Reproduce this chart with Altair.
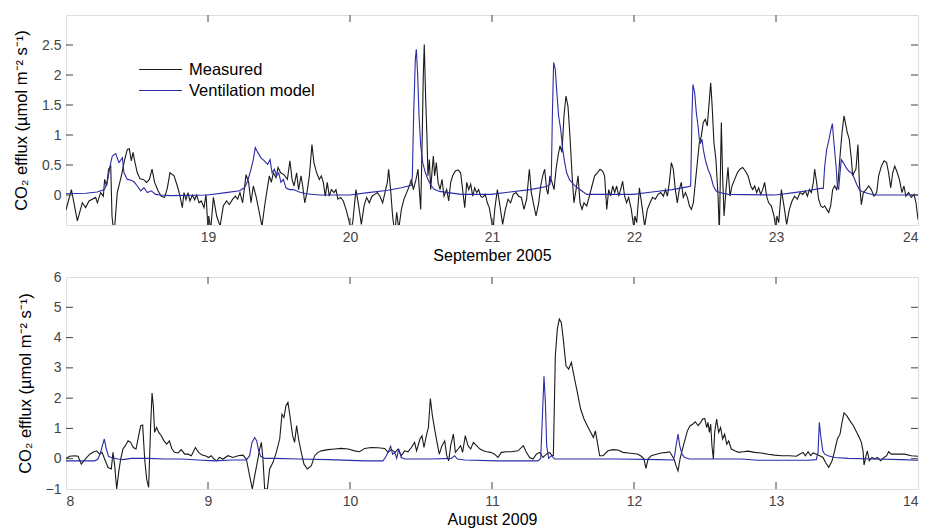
import altair as alt
import pandas as pd

FONT = "Liberation Sans"
BLACK = "#1a1a1a"
BLUE = "#2b2ba8"
SERIES = ["Measured", "Ventilation model"]
Y_TITLE = "CO₂ efflux (µmol m⁻² s⁻¹)"

# ---------------- September 2005 (top panel) ----------------
sep_meas_day = [
    18.000, 18.038, 18.080, 18.115, 18.138, 18.162, 18.185, 18.209, 18.221, 18.244, 18.263, 18.272,
    18.286, 18.300, 18.315, 18.324, 18.338, 18.361, 18.390, 18.413, 18.432, 18.446, 18.460, 18.472,
    18.486, 18.502, 18.521, 18.545, 18.568, 18.587, 18.606, 18.624, 18.648, 18.671, 18.695, 18.714,
    18.732, 18.761, 18.784, 18.803, 18.819, 18.831, 18.845, 18.859, 18.873, 18.890, 18.906, 18.920,
    18.937, 18.953, 18.972, 18.986,
    19.000, 19.005, 19.019, 19.038, 19.061, 19.085, 19.108, 19.131, 19.150, 19.174, 19.192, 19.209,
    19.225, 19.244, 19.268, 19.286, 19.303, 19.319, 19.338, 19.357, 19.380, 19.399, 19.413, 19.432,
    19.446, 19.460, 19.479, 19.493, 19.512, 19.535, 19.559, 19.577, 19.592, 19.606, 19.624, 19.638,
    19.655, 19.667, 19.681, 19.697, 19.714, 19.732, 19.746, 19.765, 19.784, 19.798, 19.812, 19.826,
    19.840, 19.854, 19.869, 19.887, 19.901, 19.915, 19.934, 19.953, 19.972, 19.991,
    20.005, 20.019, 20.042, 20.061, 20.080, 20.099, 20.117, 20.136, 20.155, 20.174, 20.192, 20.211,
    20.230, 20.249, 20.263, 20.272, 20.286, 20.300, 20.315, 20.329, 20.343, 20.362, 20.380, 20.399,
    20.418, 20.432, 20.446, 20.465, 20.479, 20.488, 20.498, 20.507, 20.516, 20.523, 20.533, 20.542,
    20.549, 20.559, 20.568, 20.577, 20.587, 20.596, 20.608, 20.620, 20.634, 20.648, 20.662, 20.681,
    20.695, 20.709, 20.723, 20.742, 20.761, 20.779, 20.793, 20.808, 20.822, 20.836, 20.850, 20.864,
    20.878, 20.892, 20.906, 20.920, 20.934, 20.953, 20.967, 20.981, 20.995,
    21.008, 21.019, 21.038, 21.056, 21.075, 21.094, 21.113, 21.131, 21.150, 21.169, 21.188, 21.207,
    21.225, 21.244, 21.263, 21.277, 21.291, 21.310, 21.329, 21.343, 21.357, 21.371, 21.385, 21.394,
    21.408, 21.423, 21.437, 21.451, 21.465, 21.479, 21.493, 21.507, 21.521, 21.535, 21.549, 21.563,
    21.577, 21.592, 21.606, 21.620, 21.634, 21.648, 21.667, 21.686, 21.704, 21.723, 21.742, 21.761,
    21.779, 21.793, 21.808, 21.822, 21.836, 21.850, 21.864, 21.878, 21.892, 21.906, 21.920, 21.934,
    21.948, 21.962, 21.981, 22.000,
    22.006, 22.019, 22.038, 22.056, 22.075, 22.094, 22.113, 22.131, 22.150, 22.169, 22.188, 22.207,
    22.221, 22.235, 22.249, 22.263, 22.277, 22.291, 22.305, 22.319, 22.333, 22.347, 22.362, 22.376,
    22.390, 22.404, 22.418, 22.432, 22.446, 22.460, 22.474, 22.488, 22.502, 22.516, 22.531, 22.540,
    22.549, 22.563, 22.577, 22.592, 22.601, 22.615, 22.624, 22.634, 22.648, 22.662, 22.676, 22.690,
    22.709, 22.728, 22.746, 22.765, 22.784, 22.803, 22.822, 22.836, 22.850, 22.864, 22.878, 22.892,
    22.906, 22.920, 22.934, 22.948, 22.967, 22.986, 23.000,
    23.006, 23.019, 23.038, 23.056, 23.075, 23.094, 23.113, 23.131, 23.150, 23.169, 23.188, 23.207,
    23.221, 23.235, 23.249, 23.263, 23.272, 23.286, 23.300, 23.315, 23.329, 23.343, 23.357, 23.371,
    23.385, 23.399, 23.413, 23.427, 23.437, 23.451, 23.465, 23.479, 23.488, 23.502, 23.516, 23.531,
    23.540, 23.549, 23.563, 23.577, 23.587, 23.601, 23.615, 23.634, 23.653, 23.671, 23.690, 23.709,
    23.723, 23.742, 23.761, 23.779, 23.793, 23.808, 23.822, 23.836, 23.850, 23.869, 23.887, 23.901,
    23.915, 23.934, 23.953, 23.972, 23.986, 24.000,
]
sep_meas_val = [
    -0.25, 0.09, -0.43, -0.13, -0.21, -0.10, -0.07, -0.04, -0.13, 0.04, -0.02, 0.26,
    0.15, 0.43, 0.48, -0.35, -0.68, 0.04, 0.32, 0.59, 0.76, 0.77, 0.57, 0.71,
    0.54, 0.37, 0.27, 0.26, 0.21, 0.26, 0.43, 0.21, 0.07, -0.02, -0.04, 0.12,
    0.37, 0.32, 0.15, -0.02, -0.21, 0.04, -0.08, 0.04, -0.10, 0.00, -0.08, 0.00,
    -0.13, -0.10, -0.21, 0.01,
    -0.57, -0.35, -0.57, -0.04, -0.35, -0.52, -0.18, -0.10, -0.16, -0.07, -0.02, -0.07,
    0.04, -0.13, 0.34, 0.21, -0.13, 0.15, -0.02, -0.24, -0.52, -0.18, 0.04, 0.32,
    0.21, 0.37, 0.29, 0.46, 0.37, 0.34, 0.26, 0.57, 0.26, 0.15, 0.37, 0.09,
    0.32, 0.15, -0.13, 0.04, 0.32, 0.84, 0.54, 0.37, 0.26, 0.32, 0.21, -0.02,
    0.21, -0.02, 0.09, 0.04, 0.09, -0.07, -0.04, -0.10, -0.24, -0.41,
    -0.57, -0.46, 0.09, -0.18, -0.49, -0.18, -0.04, -0.13, -0.02, 0.01, 0.04, -0.02,
    -0.13, 0.07, 0.21, 0.43, 0.09, -0.35, -0.63, -0.29, -0.57, -0.24, -0.07, 0.04,
    0.15, 0.26, 0.09, 0.26, 0.43, 0.09, -0.24, 0.76, 1.98, 2.51, 1.59, 0.98,
    0.32, 0.59, 0.09, 0.37, 0.65, 0.32, 0.54, 0.21, 0.09, 0.26, -0.02, 0.09,
    -0.10, 0.21, 0.32, 0.40, 0.42, 0.37, 0.09, -0.21, 0.21, 0.09, 0.18, -0.02,
    0.12, 0.04, 0.09, -0.02, -0.04, 0.01, -0.13, -0.21, -0.41,
    -0.57, -0.24, 0.09, -0.18, -0.49, -0.24, -0.07, -0.13, 0.01, 0.04, -0.02, -0.04,
    -0.24, -0.07, 0.43, 0.04, -0.13, -0.35, -0.13, 0.15, 0.32, 0.43, 0.09, 0.01,
    0.32, 0.21, 0.09, 0.43, 0.65, 0.82, 0.71, 1.32, 1.65, 1.48, 0.98, 0.37,
    -0.13, 0.09, 0.32, -0.13, -0.24, -0.13, -0.18, -0.02, 0.15, 0.32, 0.37, 0.43,
    0.40, 0.32, -0.24, 0.09, -0.02, 0.15, 0.04, 0.15, -0.02, 0.09, 0.23, -0.02,
    -0.13, -0.04, -0.24, -0.57,
    -0.35, -0.46, 0.12, -0.18, -0.52, -0.24, -0.13, -0.04, -0.07, 0.01, 0.04, -0.02,
    0.09, -0.02, 0.21, 0.54, 0.43, 0.09, -0.13, 0.09, 0.21, -0.04, 0.04, -0.04,
    -0.18, -0.24, -0.13, 0.21, 0.54, 0.87, 0.98, 1.21, 1.26, 1.15, 1.59, 1.87,
    1.54, 0.87, 0.59, -0.02, -0.63, 1.21, 0.32, -0.35, 0.09, 0.46, -0.02, 0.15,
    0.26, 0.37, 0.43, 0.46, 0.40, 0.32, 0.15, 0.09, 0.15, 0.04, 0.12, 0.01,
    0.09, 0.21, -0.02, -0.13, -0.18, -0.35, -0.57,
    -0.35, -0.46, 0.09, -0.18, -0.49, -0.24, -0.10, -0.02, -0.07, 0.04, 0.01, 0.07,
    -0.02, 0.09, 0.04, 0.21, 0.43, 0.21, -0.07, -0.18, -0.21, -0.18, -0.24, -0.29,
    -0.18, 0.09, 0.15, 0.09, 0.21, 0.65, 1.04, 1.32, 1.21, 1.04, 0.93, 0.59,
    0.32, 0.37, 0.43, 0.84, 0.21, -0.16, 0.04, 0.09, 0.15, 0.09, -0.02, 0.04,
    0.32, 0.48, 0.57, 0.54, 0.37, 0.12, 0.37, 0.48, 0.40, 0.26, 0.04, 0.15,
    -0.02, 0.04, -0.04, 0.01, -0.13, -0.41,
]
sep_model_day = [
    18.000, 18.140, 18.220, 18.270, 18.290, 18.310, 18.326, 18.350, 18.373, 18.397, 18.408, 18.432,
    18.455, 18.479, 18.502, 18.526, 18.549, 18.573, 18.601, 18.631, 18.667, 18.737, 18.995,
    19.127, 19.221, 19.256, 19.279, 19.303, 19.319, 19.333, 19.350, 19.373, 19.397, 19.420, 19.437,
    19.451, 19.467, 19.484, 19.498, 19.514, 19.531, 19.549, 19.573, 19.601, 19.643, 19.690, 19.784,
    19.995,
    20.127, 20.268, 20.362, 20.432, 20.439, 20.448, 20.460, 20.467, 20.477, 20.486, 20.498, 20.512,
    20.531, 20.549, 20.573, 20.596, 20.631, 20.690, 20.784, 20.995,
    21.127, 21.268, 21.385, 21.408, 21.418, 21.425, 21.434, 21.446, 21.455, 21.469, 21.484, 21.498,
    21.512, 21.526, 21.545, 21.573, 21.601, 21.631, 21.667, 21.995,
    22.127, 22.268, 22.385, 22.399, 22.404, 22.408, 22.415, 22.427, 22.439, 22.451, 22.460, 22.469,
    22.479, 22.488, 22.502, 22.521, 22.540, 22.559, 22.577, 22.601, 22.667, 22.995,
    23.127, 23.221, 23.315, 23.333, 23.343, 23.357, 23.371, 23.385, 23.397, 23.408, 23.423, 23.432,
    23.441, 23.451, 23.460, 23.474, 23.493, 23.512, 23.531, 23.549, 23.568, 23.587, 23.606, 23.643,
    23.690, 24.000,
]
sep_model_val = [
    0.02, 0.03, 0.05, 0.09, 0.20, 0.48, 0.65, 0.69, 0.54, 0.62, 0.37, 0.26,
    0.25, 0.22, 0.15, 0.07, 0.12, 0.04, 0.07, 0.01, 0.00, -0.01, 0.00,
    0.04, 0.07, 0.12, 0.23, 0.43, 0.59, 0.79, 0.71, 0.62, 0.57, 0.51, 0.59,
    0.37, 0.43, 0.32, 0.37, 0.21, 0.26, 0.12, 0.09, 0.09, 0.05, 0.02, 0.00,
    0.00,
    0.04, 0.08, 0.12, 0.16, 0.32, 1.32, 2.26, 2.43, 1.98, 1.32, 0.82, 0.54,
    0.37, 0.26, 0.15, 0.09, 0.06, 0.04, 0.01, 0.01,
    0.05, 0.09, 0.14, 0.18, 0.32, 1.32, 2.21, 2.09, 1.76, 1.32, 1.09, 0.76,
    0.54, 0.37, 0.26, 0.18, 0.12, 0.07, 0.01, 0.01,
    0.05, 0.09, 0.14, 0.15, 0.76, 1.32, 1.84, 1.71, 1.37, 1.15, 0.93, 0.87,
    0.93, 0.76, 0.59, 0.43, 0.32, 0.15, 0.07, 0.04, 0.01, 0.00,
    0.04, 0.07, 0.11, 0.11, 0.48, 0.76, 0.90, 1.07, 1.19, 0.87, 0.48, 0.15,
    0.09, 0.37, 0.59, 0.54, 0.46, 0.40, 0.37, 0.29, 0.18, 0.09, 0.06, 0.03,
    0.00, 0.00,
]

# ---------------- August 2009 (bottom panel) ----------------
aug_meas_day = [
    8.000, 8.026, 8.061, 8.085, 8.108, 8.136, 8.167, 8.190, 8.214, 8.237, 8.254, 8.272,
    8.296, 8.319, 8.331, 8.343, 8.357, 8.371, 8.385, 8.401, 8.418, 8.437, 8.455, 8.474,
    8.493, 8.507, 8.526, 8.540, 8.554, 8.568, 8.582, 8.596, 8.606, 8.615, 8.624, 8.638,
    8.653, 8.671, 8.690, 8.709, 8.728, 8.746, 8.765, 8.789, 8.812, 8.836, 8.859, 8.883,
    8.911, 8.934, 8.958, 8.981, 9.005, 9.023, 9.042, 9.061, 9.080, 9.106, 9.141, 9.176,
    9.211, 9.246, 9.270, 9.293, 9.312, 9.329, 9.347, 9.364, 9.376, 9.387, 9.399, 9.418,
    9.434, 9.458, 9.481, 9.505, 9.521, 9.535, 9.549, 9.563, 9.577, 9.596, 9.610, 9.624,
    9.638, 9.657, 9.676, 9.700, 9.728, 9.751, 9.775, 9.798,
    9.845, 9.892, 9.939, 9.986, 10.033, 10.068, 10.103, 10.150, 10.197, 10.244, 10.268, 10.291,
    10.319, 10.338, 10.361, 10.385, 10.408, 10.432, 10.455, 10.469, 10.493, 10.507, 10.521, 10.540,
    10.552, 10.566, 10.580, 10.596, 10.615, 10.629, 10.648, 10.667, 10.681, 10.695, 10.709, 10.728,
    10.742, 10.761, 10.779, 10.793, 10.812, 10.831, 10.850, 10.869, 10.892, 10.915, 10.939, 10.962,
    10.991, 11.019, 11.042, 11.066, 11.101, 11.136, 11.183, 11.221, 11.242, 11.265, 11.289, 11.312,
    11.336, 11.359, 11.383, 11.406, 11.423, 11.432, 11.446, 11.460, 11.474, 11.488, 11.502, 11.521,
    11.540, 11.559, 11.577, 11.601, 11.624, 11.648, 11.671, 11.695, 11.714, 11.728, 11.742, 11.758,
    11.782, 11.817, 11.852, 11.887,
    11.923, 11.958, 11.993, 12.028, 12.052, 12.070, 12.084, 12.099, 12.122, 12.157, 12.192, 12.228,
    12.251, 12.268, 12.282, 12.296, 12.310, 12.324, 12.338, 12.357, 12.376, 12.395, 12.413, 12.432,
    12.451, 12.470, 12.484, 12.498, 12.512, 12.521, 12.531, 12.540, 12.549, 12.559, 12.568, 12.582,
    12.596, 12.610, 12.624, 12.638, 12.653, 12.667, 12.685, 12.709, 12.737, 12.767, 12.803, 12.850,
    12.897, 12.944, 12.991, 13.038, 13.096, 13.143, 13.167, 13.190, 13.207, 13.226, 13.244, 13.261,
    13.284, 13.308, 13.331, 13.348, 13.371, 13.395, 13.413, 13.432, 13.451, 13.465, 13.479, 13.498,
    13.521, 13.545, 13.568, 13.587, 13.601, 13.613, 13.620, 13.634, 13.643, 13.657, 13.676, 13.695,
    13.714, 13.737, 13.761, 13.779, 13.793, 13.812, 13.859, 13.906, 13.953, 14.000,
]
aug_meas_val = [
    0.01, 0.08, 0.10, 0.08, -0.18, -0.01, 0.15, 0.21, 0.26, 0.15, 0.21, -0.01,
    -0.29, -0.34, 0.21, -0.23, -1.00, -0.45, -0.01, 0.32, 0.43, 0.59, 0.54, 0.37,
    0.32, 0.65, 1.09, 1.11, -0.01, -0.67, -0.95, 1.09, 2.17, 1.75, 0.87, 1.03,
    0.87, 0.76, 0.59, 0.48, 0.59, 0.32, 0.21, 0.19, 0.30, 0.15, 0.15, 0.10,
    0.37, 0.21, 0.12, 0.10, 0.04, 0.10, -0.01, -0.07, 0.04, -0.01, 0.10, 0.04,
    0.10, 0.12, -0.01, -0.56, -1.00, -0.56, -0.12, 0.32, 0.54, -0.01, -1.00, -1.00,
    -0.34, -0.12, 0.21, 0.65, 1.47, 1.36, 1.75, 1.86, 1.42, 0.76, 0.54, 1.09,
    0.65, 0.21, -0.18, -0.34, -0.23, 0.10, 0.21, 0.26,
    0.30, 0.32, 0.34, 0.32, 0.26, 0.23, 0.34, 0.37, 0.36, 0.34, 0.21, 0.30,
    0.21, 0.32, 0.10, 0.26, 0.23, 0.37, 0.54, 0.26, 0.65, 0.76, 0.37, 0.81,
    1.03, 1.99, 1.42, 0.98, 0.48, 0.15, 0.43, 0.59, 0.10, -0.07, 0.43, 0.81,
    0.21, 0.32, 0.43, 0.21, 0.76, 0.43, 0.32, 0.54, 0.43, 0.32, 0.26, 0.23,
    0.21, 0.15, 0.04, 0.21, 0.23, 0.23, 0.26, 0.43, 0.21, 0.04, -0.01, 0.15,
    0.21, 0.04, 0.15, 0.21, 0.10, 0.10, 3.40, 4.28, 4.61, 4.50, 3.95, 3.07,
    2.96, 3.18, 2.74, 2.19, 1.64, 1.31, 1.09, 0.87, 0.70, 0.92, 0.54, 0.10,
    0.10, 0.26, 0.30, 0.29,
    0.21, 0.19, 0.17, 0.15, 0.08, -0.01, -0.32, -0.01, 0.10, 0.15, 0.19, 0.21,
    0.23, 0.10, -0.01, -0.23, -0.40, -0.01, 0.26, 0.59, 0.92, 1.09, 1.14, 1.22,
    1.09, 1.20, 1.31, 1.33, 1.03, 1.20, 0.87, 1.14, 0.43, -0.01, 0.87, 1.31,
    0.87, 1.03, 0.65, 0.81, 0.48, 0.59, 0.32, 0.26, 0.21, 0.23, 0.25, 0.21,
    0.19, 0.15, 0.12, 0.10, 0.10, 0.08, 0.15, 0.21, 0.10, 0.23, 0.10, 0.19,
    0.15, 0.10, 0.04, -0.12, -0.29, -0.07, 0.26, 0.65, 0.81, 1.20, 1.51, 1.42,
    1.25, 1.09, 0.87, 0.70, 0.54, 0.26, -0.21, 0.10, 0.26, -0.07, 0.04, -0.01,
    0.04, -0.07, 0.04, 0.10, 0.23, 0.15, 0.15, 0.15, 0.10, 0.08,
]
aug_model_day = [
    8.000, 8.202, 8.225, 8.244, 8.256, 8.270, 8.284, 8.300, 8.319, 8.366, 8.401, 8.460,
    8.577, 8.695, 8.812, 8.930, 9.047, 9.164, 9.270, 9.293, 9.310, 9.329, 9.343, 9.357,
    9.371, 9.399, 9.469, 9.634, 9.850, 10.103, 10.232, 10.249, 10.268, 10.286, 10.300, 10.315,
    10.329, 10.343, 10.361, 10.385, 10.573, 10.714, 10.737, 10.756, 10.808, 11.042, 11.324, 11.343,
    11.357, 11.366, 11.376, 11.385, 11.399, 11.418, 11.441, 11.512, 11.887, 12.169, 12.275, 12.286,
    12.298, 12.310, 12.322, 12.338, 12.357, 12.392, 12.756, 12.873, 13.226, 13.284, 13.296, 13.305,
    13.315, 13.329, 13.343, 13.366, 13.413, 13.507, 13.695, 13.883, 14.000,
]
aug_model_val = [
    -0.07, -0.07, -0.01, 0.21, 0.43, 0.65, 0.32, 0.07, 0.04, -0.01, -0.03, 0.01,
    0.01, -0.01, -0.01, -0.04, -0.07, -0.04, -0.04, 0.10, 0.54, 0.70, 0.59, 0.26,
    0.08, 0.01, 0.01, -0.01, -0.03, -0.07, -0.07, 0.04, 0.21, 0.41, 0.15, 0.21,
    0.01, 0.32, 0.04, -0.01, -0.01, 0.01, 0.10, -0.01, -0.04, -0.07, -0.07, 0.01,
    1.64, 2.72, 1.86, 0.43, 0.01, 0.10, -0.01, -0.01, -0.01, -0.03, -0.04, 0.10,
    0.48, 0.81, 0.43, 0.15, 0.04, -0.01, -0.01, -0.05, -0.05, -0.03, 0.21, 1.20,
    0.76, 0.26, 0.15, 0.10, 0.04, 0.01, -0.01, -0.03, -0.05,
]

sep_xticks = [19, 20, 21, 22, 23, 24]
sep_xtick_marks = [19, 20, 21, 22, 23]
sep_yticks = [0, 0.5, 1, 1.5, 2, 2.5]
aug_xticks = [8, 9, 10, 11, 12, 13, 14]
aug_xtick_marks = [9, 10, 11, 12, 13]
aug_yticks = [-1, 0, 1, 2, 3, 4, 5, 6]
aug_ytick_marks = [0, 1, 2, 3, 4, 5]

W = 852
TICK = 7


def long_df(md, mv, sd, sv):
    a = pd.DataFrame({"day": md, "value": mv, "series": SERIES[0]})
    b = pd.DataFrame({"day": sd, "value": sv, "series": SERIES[1]})
    return pd.concat([a, b], ignore_index=True)


def panel(df, xdom, ydom, xticks, xmarks, yticks, ymarks, xtitle, H, show_legend):
    xs = alt.Scale(domain=xdom, nice=False, zero=False)
    ys = alt.Scale(domain=ydom, nice=False, zero=False)
    xaxis = alt.Axis(values=xticks, format="d", ticks=False, domain=False, grid=False,
                     labelOverlap=False, labelPadding=5, titlePadding=3, labelFont=FONT,
                     labelFontSize=14, labelColor="#444444", titleFont=FONT, titleFontSize=16,
                     titleFontWeight="normal", titleColor="#000000")
    yaxis = alt.Axis(values=yticks, format="~g", ticks=False, domain=False, grid=False,
                     labelOverlap=False, labelPadding=5, titlePadding=12,
                     labelFont=FONT, labelFontSize=14, labelColor="#444444",
                     titleFont=FONT, titleFontSize=16.5, titleFontWeight="normal",
                     titleColor="#000000")
    if show_legend:
        leg = alt.Legend(
            title=None, orient="none", legendX=72, legendY=44, symbolType="stroke",
            symbolSize=1849, symbolStrokeWidth=1.2, labelFont=FONT, labelFontSize=16.5,
            labelColor="#000000", labelOffset=6, clipHeight=21, rowPadding=0, padding=0,
        )
    else:
        leg = None
    lines = alt.Chart(df).mark_line(clip=True, strokeWidth=1.1).encode(
        x=alt.X("day:Q", scale=xs, title=xtitle, axis=xaxis),
        y=alt.Y("value:Q", scale=ys, title=Y_TITLE, axis=yaxis),
        color=alt.Color("series:N", scale=alt.Scale(domain=SERIES, range=[BLACK, BLUE]), legend=leg),
        order=alt.Order("series:N"),
        detail="series:N",
    )
    xt = pd.DataFrame({"day": xmarks})
    yt = pd.DataFrame({"value": ymarks})
    tick_style = dict(color="#444444", strokeWidth=1)
    xenc = alt.X("day:Q", scale=xs, title=xtitle, axis=xaxis)
    yenc = alt.Y("value:Q", scale=ys, title=Y_TITLE, axis=yaxis)
    top_t = alt.Chart(xt).mark_rule(**tick_style).encode(
        x=xenc, y=alt.value(0), y2=alt.value(TICK))
    bot_t = alt.Chart(xt).mark_rule(**tick_style).encode(
        x=xenc, y=alt.value(H), y2=alt.value(H - TICK))
    left_t = alt.Chart(yt).mark_rule(**tick_style).encode(
        y=yenc, x=alt.value(0), x2=alt.value(TICK))
    right_t = alt.Chart(yt).mark_rule(**tick_style).encode(
        y=yenc, x=alt.value(W), x2=alt.value(W - TICK))
    return alt.layer(lines, top_t, bot_t, left_t, right_t).properties(width=W, height=H)


top = panel(long_df(sep_meas_day, sep_meas_val, sep_model_day, sep_model_val),
            [18, 24], [-0.5, 3.0], sep_xticks, sep_xtick_marks, sep_yticks, sep_yticks,
            "September 2005", 210, True)
bottom = panel(long_df(aug_meas_day, aug_meas_val, aug_model_day, aug_model_val),
               [8, 14], [-1, 6], aug_xticks, aug_xtick_marks, aug_yticks, aug_ytick_marks,
               "August 2009", 212, False)

chart = alt.vconcat(top, bottom, spacing=5).resolve_scale(color="independent").configure_view(
    stroke="#444444", strokeWidth=1
).configure(background="white", padding={"left": 5, "right": 2, "top": 6, "bottom": 0})

chart.save("out.html", embed_options={"renderer": "svg", "actions": False})
